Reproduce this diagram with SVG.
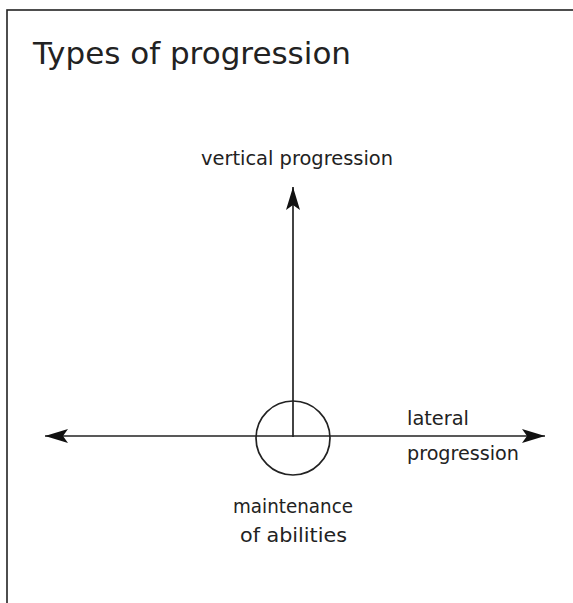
<svg xmlns="http://www.w3.org/2000/svg" width="573" height="603" viewBox="0 0 573 603">
<style>
text{font-family:"Comic Sans MS","DejaVu Sans",sans-serif;fill:#222;}
.lbl{font-size:19px;}
.ln{stroke:#222;stroke-width:1.7;fill:none;}
</style>
<defs>
<marker id="ah" viewBox="0 0 24 14" refX="23" refY="7" markerWidth="24" markerHeight="14" markerUnits="userSpaceOnUse" orient="auto">
<path d="M0,0 L23,7 L0,14 L5,7 Z" fill="#111"/>
</marker>
</defs>
<rect x="7" y="10" width="580" height="610" fill="#fff" stroke="#222" stroke-width="1.6"/>
<g id="title"><text x="33" y="64" font-size="30" textLength="318" lengthAdjust="spacingAndGlyphs">Types of progression</text></g>
<g id="connectors">
<line class="ln" x1="293" y1="437" x2="293" y2="187" marker-end="url(#ah)"/>
<line class="ln" x1="293" y1="436" x2="45" y2="436" marker-end="url(#ah)"/>
<line class="ln" x1="293" y1="436" x2="545" y2="436" marker-end="url(#ah)"/>
</g>
<g id="center"><circle class="ln" cx="293" cy="438" r="37"/></g>
<g id="vertical"><text class="lbl" x="201" y="165" textLength="192" lengthAdjust="spacingAndGlyphs">vertical progression</text></g>
<g id="lateral"><text class="lbl" x="407" y="425" textLength="62" lengthAdjust="spacingAndGlyphs">lateral</text><text class="lbl" x="407" y="460" textLength="112" lengthAdjust="spacingAndGlyphs">progression</text></g>
<g id="maintenance"><text class="lbl" x="233" y="513" textLength="120" lengthAdjust="spacingAndGlyphs">maintenance</text><text class="lbl" x="240" y="542" textLength="107" lengthAdjust="spacingAndGlyphs">of abilities</text></g>
</svg>
